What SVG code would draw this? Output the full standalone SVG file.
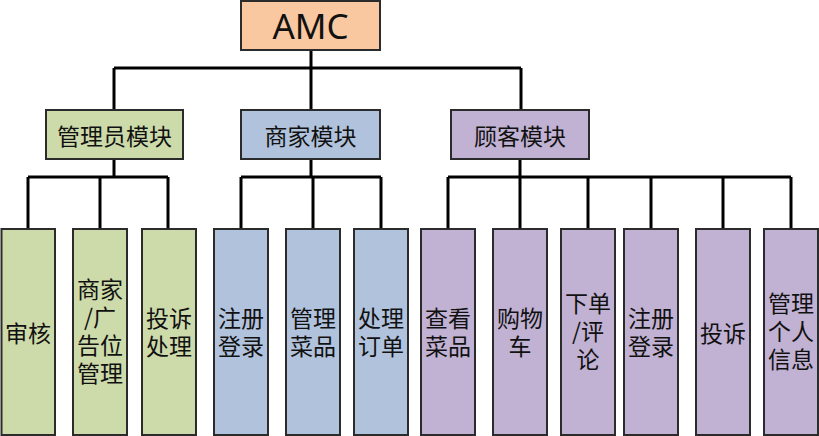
<svg xmlns="http://www.w3.org/2000/svg" width="819" height="436" viewBox="0 0 819 436">
<style>
.b{stroke:#2b2b2b;stroke-width:2}
.g{fill:#CDDAA9}.bl{fill:#B1C3DC}.p{fill:#C1B1D3}.o{fill:#FAC8A0}
text{font-family:"Noto Sans CJK SC","Noto Sans",sans-serif;font-size:23px;fill:#111;text-anchor:middle;dominant-baseline:central}
.t{font-family:"Noto Sans","Noto Sans CJK SC",sans-serif;font-size:35px}
.c{fill:none;stroke:#000;stroke-width:3}
</style>
<rect width="819" height="436" fill="#fff"/>
<g id="connectors">
<path class="c" d="M311 50V110M114 68H521M114 68V110M521 68V110"/>
<path class="c" d="M114 159V177M28 177H168M28 177V229M100 177V229M168 177V229"/>
<path class="c" d="M311 159V177M241 177H381M241 177V229M313 177V229M381 177V229"/>
<path class="c" d="M520 159V177M448 177H791M448 177V229M520 177V229M588 177V229M651 177V229M723 177V229M791 177V229"/>
</g>
<g id="amc"><rect class="b o" x="241" y="1" width="139" height="49"/><text class="t" x="310.5" y="25.5">AMC</text></g>
<g id="admin"><rect class="b g" x="46" y="110" width="137" height="49"/><text x="114.5" y="134.5">管理员模块</text></g>
<g id="merchant"><rect class="b bl" x="241" y="110" width="139" height="49"/><text x="310.5" y="134.5">商家模块</text></g>
<g id="customer"><rect class="b p" x="451" y="110" width="138" height="49"/><text x="520" y="134.5">顾客模块</text></g>

<g id="a1"><rect class="b g" x="1.5" y="229" width="53.5" height="206"/><text x="28" y="332">审核</text></g>
<g id="a2"><rect class="b g" x="73" y="229" width="54" height="206"/><text x="100" y="288">商家</text><text x="100" y="316">/广</text><text x="100" y="344">告位</text><text x="100" y="372">管理</text></g>
<g id="a3"><rect class="b g" x="142" y="229" width="54" height="206"/><text x="169" y="317">投诉</text><text x="169" y="345">处理</text></g>

<g id="m1"><rect class="b bl" x="214" y="229" width="54" height="206"/><text x="241" y="317">注册</text><text x="241" y="345">登录</text></g>
<g id="m2"><rect class="b bl" x="286" y="229" width="54" height="206"/><text x="313" y="317">管理</text><text x="313" y="345">菜品</text></g>
<g id="m3"><rect class="b bl" x="354" y="229" width="54" height="206"/><text x="381" y="317">处理</text><text x="381" y="345">订单</text></g>

<g id="c1"><rect class="b p" x="421" y="229" width="54" height="206"/><text x="448" y="317">查看</text><text x="448" y="345">菜品</text></g>
<g id="c2"><rect class="b p" x="493" y="229" width="54" height="206"/><text x="520" y="317">购物</text><text x="520" y="345">车</text></g>
<g id="c3"><rect class="b p" x="561" y="229" width="54" height="206"/><text x="588" y="302">下单</text><text x="588" y="330">/评</text><text x="588" y="358">论</text></g>
<g id="c4"><rect class="b p" x="624" y="229" width="54" height="206"/><text x="651" y="317">注册</text><text x="651" y="345">登录</text></g>
<g id="c5"><rect class="b p" x="696" y="229" width="54" height="206"/><text x="723" y="332">投诉</text></g>
<g id="c6"><rect class="b p" x="764" y="229" width="54" height="206"/><text x="791" y="302">管理</text><text x="791" y="330">个人</text><text x="791" y="358">信息</text></g>
</svg>
